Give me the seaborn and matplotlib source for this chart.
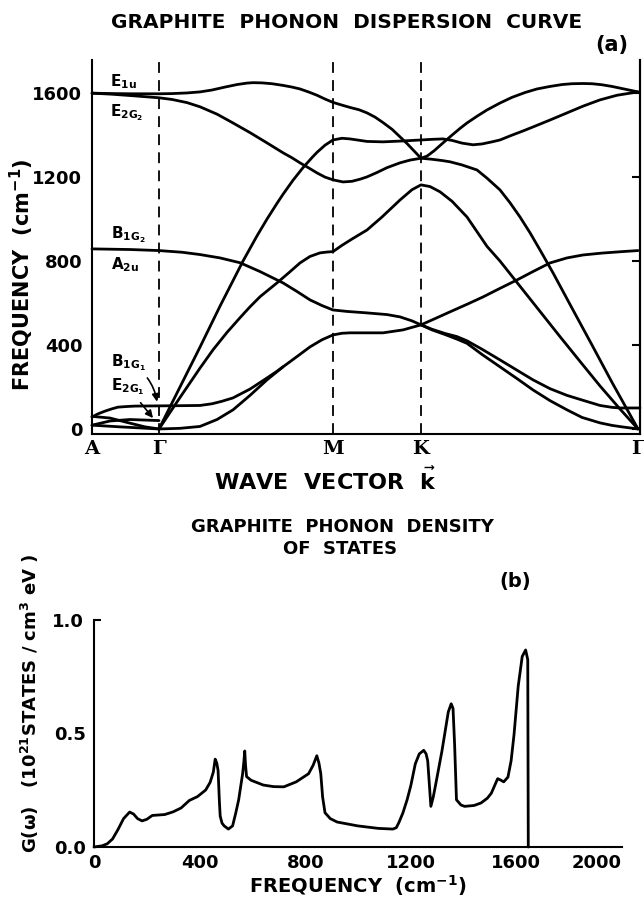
import numpy as np
import pandas as pd
import matplotlib
matplotlib.use('Agg')
import matplotlib.pyplot as plt
import seaborn as sns

# ---------------------------------------------------
# (a) dispersion: high symmetry points along the path
# ---------------------------------------------------
sym_labels = ['A', 'Γ', 'M', 'K', 'Γ']
sym_k = [0.0, 0.67, 2.41, 3.29, 5.46]
dashed_k = [0.67, 2.41, 3.29]
freq_ticks = [0, 400, 800, 1200, 1600]

# branches (k, frequency cm-1)
e1u_k = [0, 0.2, 0.4, 0.67, 0.8, 0.95, 1.08, 1.2, 1.32, 1.45, 1.55, 1.61, 1.7, 1.8, 1.91, 2.0, 2.08, 2.17,
         2.25, 2.33, 2.41, 2.5, 2.58, 2.67, 2.75, 2.83, 2.91, 3.0, 3.08, 3.15, 3.22, 3.29]
e1u_f = [1600, 1598, 1597, 1597, 1598, 1601, 1606, 1615, 1628, 1641, 1648, 1650, 1649, 1645, 1637, 1629, 1620,
         1605, 1590, 1572, 1556, 1543, 1532, 1521, 1506, 1486, 1460, 1428, 1392, 1360, 1325, 1290]

kup_k = [3.29, 3.35, 3.42, 3.51, 3.6, 3.68, 3.75, 3.85, 3.95, 4.08, 4.2, 4.33, 4.45, 4.58, 4.7, 4.8, 4.91,
         5.0, 5.1, 5.2, 5.3, 5.38, 5.46]
kup_f = [1290, 1300, 1325, 1363, 1400, 1432, 1458, 1490, 1520, 1553, 1580, 1603, 1620, 1632, 1641, 1645, 1646,
         1645, 1640, 1632, 1622, 1614, 1606]

e2g2_k = [0, 0.2, 0.4, 0.67, 0.8, 0.95, 1.08, 1.25, 1.41, 1.58, 1.75, 1.91, 2.0, 2.08, 2.17, 2.25, 2.33,
          2.41, 2.51, 2.6, 2.68, 2.75, 2.85, 2.95, 3.08, 3.18, 3.29]
e2g2_f = [1600, 1595, 1588, 1578, 1570, 1555, 1535, 1500, 1458, 1412, 1363, 1316, 1292, 1268, 1243, 1220, 1200,
          1187, 1177, 1180, 1190, 1201, 1222, 1245, 1268, 1281, 1290]

kdown_k = [3.29, 3.4, 3.5, 3.58, 3.7, 3.85, 3.95, 4.08, 4.18, 4.28, 4.38, 4.48, 4.61, 4.81, 5.0, 5.2, 5.46]
kdown_f = [1290, 1285, 1279, 1273, 1258, 1234, 1195, 1139, 1078, 1010, 935, 853, 744, 567, 400, 222, 0]

la_k = [0.67, 0.88, 1.08, 1.28, 1.51, 1.65, 1.75, 1.85, 1.91, 2.01, 2.11, 2.2, 2.25, 2.33, 2.41, 2.5, 2.58,
        2.75, 2.91, 3.1, 3.29, 3.4, 3.51, 3.6, 3.7, 3.81, 3.9, 4.0, 4.08, 4.2, 4.3, 4.41, 4.58, 4.75, 4.91,
        5.08, 5.25, 5.46]
la_f = [0, 200, 390, 585, 800, 920, 1000, 1075, 1118, 1185, 1245, 1293, 1318, 1352, 1377, 1385, 1382,
        1370, 1368, 1372, 1377, 1380, 1382, 1375, 1362, 1354, 1358, 1368, 1377, 1400, 1418, 1439, 1472, 1506,
        1538, 1568, 1590, 1606]

ta_k = [0.67, 0.88, 1.08, 1.21, 1.35, 1.48, 1.58, 1.68, 1.77, 1.85, 1.97, 2.08, 2.18, 2.28, 2.35, 2.41, 2.5,
        2.6, 2.75, 2.9, 3.08, 3.2, 3.29, 3.38, 3.48, 3.6, 3.75, 3.95, 4.08, 4.28, 4.48, 4.68, 4.88, 5.08,
        5.28, 5.46]
ta_f = [0, 150, 290, 377, 460, 530, 582, 630, 665, 696, 745, 791, 822, 839, 843, 845, 875, 905, 948, 1010,
        1091, 1140, 1163, 1155, 1130, 1085, 1010, 870, 800, 680, 560, 440, 322, 205, 95, 0]

b1g2_k = [0, 0.38, 0.67, 0.9, 1.08, 1.28, 1.48, 1.68, 1.91, 2.05, 2.18, 2.3, 2.41, 2.55, 2.75, 2.95, 3.08,
          3.2, 3.29]
b1g2_f = [858, 855, 850, 842, 831, 815, 792, 750, 696, 655, 615, 588, 567, 560, 553, 545, 534, 515, 496]

za_k = [0.67, 0.88, 1.08, 1.25, 1.41, 1.58, 1.75, 1.91, 2.05, 2.18, 2.3, 2.41, 2.5, 2.58, 2.75, 2.91, 3.11,
        3.2, 3.29, 3.45, 3.58, 3.75, 3.91, 4.08, 4.25, 4.41, 4.58, 4.75, 4.91, 5.1, 5.3, 5.46]
za_f = [0, 3, 12, 45, 91, 160, 234, 296, 345, 391, 425, 448, 456, 458, 458, 458, 472, 484, 496, 530, 558,
        594, 629, 670, 710, 750, 791, 815, 829, 838, 845, 850]

b1g1_k = [0, 0.06, 0.13, 0.2, 0.26, 0.35, 0.43, 0.67, 0.9, 1.08, 1.2, 1.3, 1.41, 1.58, 1.75, 1.85, 1.91]
b1g1_f = [57, 72, 85, 96, 104, 107, 109, 110, 111, 112, 120, 132, 148, 190, 243, 275, 296]

kg1_k = [3.29, 3.4, 3.53, 3.65, 3.75, 3.9, 4.08, 4.25, 4.41, 4.58, 4.75, 4.9, 5.08, 5.2, 5.28, 5.38, 5.48]
kg1_f = [496, 475, 455, 440, 420, 380, 329, 280, 234, 192, 160, 138, 112, 103, 100, 100, 100]

kg2_k = [3.29, 3.4, 3.53, 3.65, 3.75, 3.9, 4.08, 4.25, 4.41, 4.58, 4.75, 4.9, 5.08, 5.2, 5.3, 5.46]
kg2_f = [496, 472, 450, 428, 408, 355, 296, 240, 186, 135, 91, 55, 29, 17, 10, 0]

ag1_k = [0, 0.18, 0.36, 0.53, 0.67]
ag1_f = [60, 52, 30, 10, 0]
ag2_k = [0, 0.18, 0.38, 0.67]
ag2_f = [18, 38, 45, 40]
ag3_k = [0, 0.28, 0.67]
ag3_f = [18, 10, 0]

# ---------------------------------------------------
# (b) density of states
# ---------------------------------------------------
dos_freq = [0, 30, 50, 70, 90, 112, 135, 150, 165, 182, 200, 221, 268, 300, 330, 361, 392, 423, 440, 452,
            459, 465, 470, 475, 478, 485, 493, 509, 525, 537, 548, 563, 568, 571, 574, 578, 595, 641, 680,
            719, 766, 813, 830, 844, 852, 859, 866, 875, 895, 921, 999, 1077, 1132, 1145, 1155, 1170, 1186,
            1200, 1217, 1232, 1249, 1258, 1264, 1270, 1276, 1285, 1295, 1318, 1342, 1353, 1360, 1366, 1373,
            1390, 1404, 1440, 1466, 1490, 1505, 1529, 1540, 1552, 1568, 1580, 1591, 1607, 1622, 1635, 1643,
            1645]
dos_g = [0.0, 0.005, 0.014, 0.035, 0.075, 0.125, 0.154, 0.145, 0.125, 0.115, 0.122, 0.139, 0.143, 0.155,
         0.172, 0.205, 0.222, 0.251, 0.285, 0.33, 0.387, 0.37, 0.337, 0.2, 0.136, 0.105, 0.093, 0.079, 0.093,
         0.15, 0.208, 0.323, 0.38, 0.423, 0.36, 0.31, 0.294, 0.273, 0.266, 0.265, 0.287, 0.323, 0.36, 0.402,
         0.37, 0.323, 0.22, 0.151, 0.125, 0.110, 0.093, 0.082, 0.079, 0.085, 0.108, 0.15, 0.208, 0.27, 0.366,
         0.41, 0.426, 0.41, 0.38, 0.28, 0.179, 0.22, 0.280, 0.423, 0.595, 0.631, 0.61, 0.45, 0.208, 0.185,
         0.179, 0.183, 0.194, 0.215, 0.237, 0.301, 0.295, 0.287, 0.308, 0.38, 0.495, 0.710, 0.839, 0.868,
         0.825, 0.0]
dos_ticks = [0, 400, 800, 1200, 1600, 2000]

sns.set_theme(style='white')
plt.rcParams.update({
    'font.family': ['DejaVu Sans'],
    'font.weight': 'bold',
    'axes.edgecolor': 'black',
    'axes.linewidth': 1.5,
    'xtick.color': 'black',
    'ytick.color': 'black',
    'text.color': 'black',
    'mathtext.default': 'regular',
})

W, H = 644, 907


def fx(x):
    return x / W


def fy(y):
    return 1 - y / H


fig = plt.figure(figsize=(W / 100, H / 100), dpi=100)

# ---------------------------------------------------
# top panel
# ---------------------------------------------------
ax = fig.add_axes([fx(92), fy(434), (640 - 92) / W, (434 - 60) / H])

pairs = [(e1u_k, e1u_f), (kup_k, kup_f), (e2g2_k, e2g2_f), (kdown_k, kdown_f), (la_k, la_f),
         (ta_k, ta_f), (b1g2_k, b1g2_f), (za_k, za_f), (b1g1_k, b1g1_f), (kg1_k, kg1_f),
         (kg2_k, kg2_f), (ag1_k, ag1_f), (ag2_k, ag2_f), (ag3_k, ag3_f)]
rows = []
for i, (ks, fs) in enumerate(pairs):
    for k, f in zip(ks, fs):
        rows.append({'k': k, 'freq': f, 'branch': i})
disp = pd.DataFrame(rows)

sns.lineplot(data=disp, x='k', y='freq', units='branch', estimator=None, sort=False,
             color='black', linewidth=2.0, ax=ax, clip_on=False)

for k in dashed_k:
    ax.axvline(k, color='black', linewidth=1.3, linestyle=(0, (6, 4)))

ax.set_xlim(0, 5.48)
ax.set_ylim(-24, 1758)
ax.set_xlabel('')
ax.set_ylabel('')
sns.despine(ax=ax, top=True, right=False)
ax.set_yticks(freq_ticks)
ax.set_yticklabels([str(v) for v in freq_ticks], fontsize=13, fontweight='bold')
ax.tick_params(axis='y', direction='out', length=6, width=1.5, pad=1)
ax.set_xticks(sym_k)
ax.set_xticklabels(sym_labels, fontsize=14, fontweight='bold', family='DejaVu Serif')
ax.tick_params(axis='x', direction='in', length=5, width=1.2, pad=4)

sec = ax.secondary_yaxis('right')
sec.set_yticks(freq_ticks)
sec.set_yticklabels([])
sec.tick_params(direction='in', length=6, width=1.5)
sec.spines['right'].set_linewidth(1.5)

# mode labels
lab_kw = dict(fontsize=11, fontweight='bold', ha='left', va='center')
ax.text(0.18, 1655, r'E$_{1u}$', **lab_kw)
ax.text(0.18, 1505, r'E$_{2G_2}$', **lab_kw)
ax.text(0.19, 925, r'B$_{1G_2}$', **lab_kw)
ax.text(0.19, 782, r'A$_{2u}$', **lab_kw)
ax.annotate(r'B$_{1G_1}$', xy=(0.65, 130), xytext=(0.19, 318), fontsize=11, fontweight='bold',
            va='center', ha='left',
            arrowprops=dict(arrowstyle='-|>', color='black', lw=1.2, connectionstyle='arc3,rad=-0.25',
                            shrinkA=2, shrinkB=0))
ax.annotate(r'E$_{2G_1}$', xy=(0.61, 52), xytext=(0.19, 200), fontsize=11, fontweight='bold',
            va='center', ha='left',
            arrowprops=dict(arrowstyle='-|>', color='black', lw=1.2, shrinkA=2, shrinkB=0))

fig.text(fx(347), fy(22), 'GRAPHITE  PHONON  DISPERSION  CURVE', ha='center', va='center',
         fontsize=14.5, fontweight='bold')
fig.text(fx(612), fy(45), '(a)', ha='center', va='center', fontsize=15, fontweight='bold')
fig.text(fx(22), fy(275), 'FREQUENCY  (cm$^{-1}$)', rotation=90, ha='center', va='center',
         fontsize=15, fontweight='bold')
fig.text(fx(325), fy(480), r'WAVE  VECTOR  $\vec{\mathbf{k}}$', ha='center', va='center',
         fontsize=16, fontweight='bold')

# ---------------------------------------------------
# bottom panel
# ---------------------------------------------------
bx = fig.add_axes([fx(94), fy(847), (622 - 94) / W, (847 - 620) / H])
dos = pd.DataFrame({'freq': dos_freq, 'g': dos_g})
sns.lineplot(data=dos, x='freq', y='g', estimator=None, sort=False, color='black',
             linewidth=2.0, ax=bx, clip_on=False)
bx.set_xlim(0, 2000)
bx.set_ylim(0, 1.0)
bx.set_xlabel('')
bx.set_ylabel('')
sns.despine(ax=bx, top=True, right=True)
bx.set_xticks(dos_ticks)
xlabels = bx.set_xticklabels([str(v) for v in dos_ticks], fontsize=13, fontweight='bold')
xlabels[-1].set_horizontalalignment('right')
bx.tick_params(axis='x', direction='in', length=6, width=1.5, pad=5)
bx.set_yticks([0.0, 0.5])
bx.set_yticklabels(['0.0', '0.5'], fontsize=13, fontweight='bold')
bx.set_yticks([1.0], ['1.0'], minor=True)
bx.tick_params(axis='y', which='major', direction='out', length=5, width=1.5, pad=1)
bx.tick_params(axis='y', which='minor', direction='in', length=5, width=1.5, pad=7,
               labelsize=13, left=True)
for t in bx.get_yticklabels(minor=True):
    t.set_fontweight('bold')

fig.text(fx(342), fy(527), 'GRAPHITE  PHONON  DENSITY', ha='center', va='center',
         fontsize=13, fontweight='bold')
fig.text(fx(340), fy(549), 'OF  STATES', ha='center', va='center', fontsize=13, fontweight='bold')
fig.text(fx(515), fy(582), '(b)', ha='center', va='center', fontsize=14, fontweight='bold')
fig.text(fx(30), fy(703), r'G(ω)   (10$^{21}$STATES / cm$^{3}$ eV )', rotation=90,
         ha='center', va='center', fontsize=13, fontweight='bold')
fig.text(fx(358), fy(886), 'FREQUENCY  (cm$^{-1}$)', ha='center', va='center',
         fontsize=14, fontweight='bold')

fig.savefig('out.png', dpi=100)
